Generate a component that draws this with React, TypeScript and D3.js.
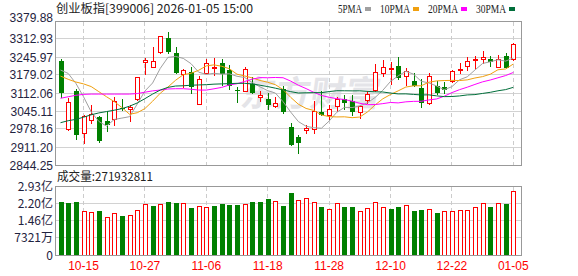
import React from 'react';
import * as d3 from 'd3';

const title = '创业板指[399006] 2026-01-05 15:00';
const volTitle = '成交量:';
const legendLabels = ['5PMA', '10PMA', '20PMA', '30PMA'];
const legendColors = ['#a0a0a0', '#f0a010', '#ff00ff', '#006e3a'];
const watermark = '东方财富';

const dates = ['10-10','10-13','10-14','10-15','10-16','10-17','10-20','10-21','10-22','10-23','10-24','10-27','10-28','10-29','10-30','10-31','11-03','11-04','11-05','11-06','11-07','11-10','11-11','11-12','11-13','11-14','11-17','11-18','11-19','11-20','11-21','11-24','11-25','11-26','11-27','11-28','12-01','12-02','12-03','12-04','12-05','12-08','12-09','12-10','12-11','12-12','12-15','12-16','12-17','12-18','12-19','12-22','12-23','12-24','12-25','12-26','12-29','12-30','12-31','01-05'];

const opens = [3232.2, 2977.0, 3120.7, 2964.5, 3011.7, 3024.0, 3006.8, 3016.5, 3058.0, 3051.4,
  3088.6, 3229.0, 3207.7, 3265.0, 3316.7, 3259.7, 3183.0, 3190.0, 3071.0, 3187.6,
  3205.0, 3222.5, 3196.0, 3123.0, 3120.6, 3145.6, 3098.3, 3091.0, 3063.7, 3128.0,
  2985.0, 2947.0, 2974.5, 2979.0, 3041.0, 3031.4, 3063.7, 3088.6, 3081.0, 3041.4,
  3086.0, 3123.2, 3185.4, 3203.0, 3212.5, 3175.3, 3158.0, 3130.7, 3073.8, 3138.0,
  3133.0, 3155.6, 3197.6, 3212.5, 3235.0, 3237.4, 3237.0, 3210.0, 3249.7, 3237.4];
const highs = [3237.4, 3095.0, 3126.0, 3029.0, 3066.3, 3025.0, 3044.0, 3098.0, 3088.6, 3068.6,
  3172.0, 3241.0, 3282.0, 3325.0, 3339.0, 3282.0, 3200.0, 3210.0, 3175.0, 3240.0,
  3242.0, 3237.4, 3215.0, 3135.5, 3210.0, 3170.0, 3120.6, 3111.0, 3096.0, 3138.0,
  3000.0, 2955.0, 2992.0, 3083.5, 3118.4, 3066.0, 3098.3, 3103.5, 3103.5, 3068.6,
  3120.6, 3220.0, 3234.8, 3227.0, 3247.0, 3205.0, 3185.4, 3163.0, 3185.4, 3155.6,
  3153.0, 3197.0, 3224.8, 3245.0, 3249.7, 3267.0, 3249.7, 3252.0, 3262.0, 3297.0];
const lows = [3098.3, 2975.0, 2942.0, 2927.0, 3001.6, 2929.8, 2971.9, 2994.0, 3049.0, 3006.8,
  3086.0, 3181.0, 3207.0, 3262.0, 3262.0, 3186.0, 3133.0, 3113.2, 3070.0, 3186.0,
  3180.0, 3140.0, 3128.0, 3078.6, 3120.0, 3112.0, 3081.0, 3053.6, 3061.0, 3036.0,
  2918.0, 2890.0, 2962.0, 2964.5, 3029.0, 3014.0, 3046.3, 3053.6, 3031.4, 3019.0,
  3076.0, 3120.6, 3175.3, 3145.6, 3165.0, 3140.7, 3137.0, 3061.0, 3073.0, 3109.0,
  3113.0, 3154.0, 3185.4, 3197.6, 3202.5, 3224.8, 3212.5, 3209.0, 3204.0, 3234.8];
const closes = [3113.2, 3078.6, 2957.0, 3026.5, 3034.0, 2935.0, 2992.0, 3080.8, 3052.0, 3060.0,
  3170.4, 3234.0, 3230.0, 3324.0, 3264.6, 3187.6, 3197.6, 3133.0, 3165.0, 3222.5,
  3209.0, 3182.8, 3138.0, 3119.0, 3200.0, 3113.2, 3103.5, 3068.6, 3073.8, 3040.0,
  2918.7, 2927.2, 2981.9, 3046.0, 3031.5, 3051.4, 3090.9, 3073.8, 3041.4, 3063.7,
  3108.4, 3190.2, 3207.7, 3205.0, 3168.0, 3192.6, 3138.0, 3073.8, 3175.3, 3111.0,
  3123.0, 3195.0, 3202.5, 3230.0, 3237.0, 3244.8, 3227.0, 3239.7, 3205.0, 3294.3];
const volumes = [227000000, 223000000, 227000000, 187000000, 183000000, 189000000, 162000000, 180000000, 167000000, 171000000,
  192000000, 219000000, 210000000, 219000000, 227000000, 223000000, 223000000, 201000000, 210000000, 206000000,
  210000000, 220000000, 216000000, 216000000, 219000000, 227000000, 227000000, 240000000, 232000000, 210000000,
  266000000, 234000000, 243000000, 226000000, 206000000, 197000000, 222000000, 206000000, 206000000, 189000000,
  200000000, 226000000, 204000000, 197000000, 206000000, 214000000, 189000000, 193000000, 196000000, 180000000,
  187000000, 187000000, 192000000, 192000000, 204000000, 222000000, 206000000, 222000000, 219000000, 271932811];

// moving-average values at the left edge (history before the window)
const ma5Head = [3197.6, 3185, 3148, 3098];
const ma10Head = [3175, 3163, 3153, 3146, 3136, 3117, 3098, 3080, 3058];
const ma20Head = [3092.4, 3098, 3103.5, 3107, 3108, 3108, 3108, 3108, 3108, 3108, 3110, 3115, 3120, 3123, 3127, 3128, 3128, 3126, 3123];
const ma30Head = [3001.6, 3009, 3014, 3022, 3031, 3038, 3043, 3048, 3054, 3063, 3075, 3091, 3108, 3123, 3133, 3138, 3139, 3141, 3142, 3143, 3145, 3146, 3147, 3148, 3148, 3146, 3141, 3136, 3130];

const priceTicks = [3379.88, 3312.93, 3245.97, 3179.02, 3112.06, 3045.11, 2978.16, 2911.20, 2844.25];
const volTickValues = [292840000, 219630000, 146420000, 73210000, 0];
const volTickLabels = ['2.93亿', '2.20亿', '1.46亿', '7321万', '0'];
const xTickLabels = ['10-15', '10-27', '11-06', '11-18', '11-28', '12-10', '12-22', '01-05'];

const RED = '#ff0000';
const GREEN = '#008000';

function movingAverage(head: number[], n: number): number[] {
  return closes.map((_, i) => (i < head.length ? head[i] : (d3.mean(closes.slice(i - n + 1, i + 1)) as number)));
}

export default function App() {
  const W = 578, H = 276;
  const left = 55.5, right = 521.5;
  const mainTop = 21.5, mainBottom = 165.5;
  const volTop = 186.5, volBottom = 255.5;

  const x = d3.scaleLinear().domain([0, dates.length - 1]).range([60.5, 513.3]);
  const y = d3.scaleLinear().domain([priceTicks[priceTicks.length - 1], priceTicks[0]]).range([165, 21]);
  const yv = d3.scaleLinear().domain([0, volTickValues[0]]).range([255, 186.6]);

  const mas = [movingAverage(ma5Head, 5), movingAverage(ma10Head, 10), movingAverage(ma20Head, 20), movingAverage(ma30Head, 30)];
  const line = d3.line<number>().x((_, i) => x(i)).y((v) => y(v));

  const tickIdx = xTickLabels.map((l) => dates.indexOf(l));
  const px = (v: number) => Math.floor(v) + 0.5;

  // legend layout
  let lx = 338;
  const legend = legendLabels.map((lab, k) => {
    const tw = lab.length * 6;
    const item = { lab, x: lx, w: tw, sx: lx + tw + 3, color: legendColors[k] };
    lx = lx + tw + 3 + 6 + 9;
    return item;
  });

  const cjk = '"Noto Sans CJK SC", sans-serif';
  const sans = '"Liberation Sans", Arial, sans-serif';

  return (
    <svg width={W} height={H} style={{ position: 'absolute', left: 0, top: 0, background: '#fff' }}
      xmlns="http://www.w3.org/2000/svg">
      <rect x={0} y={0} width={W} height={H} fill="#fff" />
      {/* title */}
      <text x={56} y={13} fontFamily={cjk} fontSize={12} fill="#222" textLength={197} lengthAdjust="spacingAndGlyphs">{title}</text>
      {legend.map((it) => (
        <g key={it.lab}>
          <text x={it.x} y={13} fontFamily='"Liberation Serif", serif' fontSize={12} fill="#222"
            textLength={it.w} lengthAdjust="spacingAndGlyphs">{it.lab}</text>
          <rect x={it.sx} y={7} width={6} height={4} fill={it.color} />
        </g>
      ))}

      {/* watermark */}
      <text x={240} y={106} fontFamily={cjk} fontSize={35} fontWeight={700} fill="#e4e4e8"
        transform="skewX(-8)" style={{ transformOrigin: '300px 100px' } as any}>{watermark}</text>

      {/* main grid */}
      <g shapeRendering="crispEdges">
        {priceTicks.map((t) => (
          <line key={t} x1={left} x2={right} y1={px(y(t))} y2={px(y(t))} stroke="#d2d2d2" />
        ))}
        {tickIdx.map((i) => (
          <line key={'v' + i} x1={px(x(i))} x2={px(x(i))} y1={mainTop} y2={mainBottom} stroke="#cccccc" strokeDasharray="4,3" />
        ))}
        {volTickValues.map((t) => (
          <line key={'g' + t} x1={left} x2={right} y1={px(yv(t))} y2={px(yv(t))} stroke="#d2d2d2" />
        ))}
        {tickIdx.map((i) => (
          <line key={'vv' + i} x1={px(x(i))} x2={px(x(i))} y1={volTop} y2={volBottom} stroke="#cccccc" strokeDasharray="4,3" />
        ))}
      </g>

      {/* candles */}
      <g shapeRendering="crispEdges">
        {dates.map((d, i) => {
          const o = opens[i], c = closes[i], h = highs[i], l = lows[i];
          const up = c >= o;
          const L = Math.round(x(i)) - 2;
          const top = Math.round(y(Math.max(o, c)));
          const bot = Math.round(y(Math.min(o, c)));
          const yh = Math.round(y(h));
          const yl = Math.round(y(l));
          const wx = L + 2.5;
          if (up) {
            const hgt = Math.max(bot - top, 1);
            return (
              <g key={d}>
                <line x1={wx} x2={wx} y1={yh} y2={top} stroke={RED} />
                <line x1={wx} x2={wx} y1={top + hgt + 1} y2={Math.max(yl + 1, top + hgt + 1)} stroke={RED} />
                <rect x={L + 0.5} y={top + 0.5} width={4} height={hgt} fill="#fff" stroke={RED} />
              </g>
            );
          }
          return (
            <g key={d}>
              <line x1={wx} x2={wx} y1={yh} y2={yl + 1} stroke={GREEN} />
              <rect x={L} y={top} width={5} height={Math.max(bot - top, 1)} fill={GREEN} />
            </g>
          );
        })}
      </g>

      {/* moving averages */}
      <g fill="none" strokeWidth={1}>
        {mas.map((m, k) => (
          <path key={k} d={line(m) as string} stroke={legendColors[k]} />
        ))}
      </g>

      {/* volume bars */}
      <g shapeRendering="crispEdges">
        {volumes.map((v, i) => {
          const prev = i === 0 ? opens[0] : closes[i - 1];
          const up = closes[i] >= prev;
          const L = Math.round(x(i)) - 2;
          const vt = Math.round(yv(v));
          if (up) {
            return <rect key={i} x={L + 0.5} y={vt + 0.5} width={4} height={255 - vt - 0.5} fill="#fff" stroke={RED} />;
          }
          return <rect key={i} x={L} y={vt} width={5} height={255 - vt} fill={GREEN} />;
        })}
      </g>

      {/* frames */}
      <g shapeRendering="crispEdges" fill="none" stroke="#999">
        <rect x={left} y={mainTop} width={right - left} height={mainBottom - mainTop} />
        <rect x={left} y={volTop} width={right - left} height={volBottom - volTop} />
      </g>

      {/* price axis labels */}
      {priceTicks.map((t, k) => (
        <text key={t} x={53} y={y(t) + (k === 0 ? 1 : 4.5)} textAnchor="end" fontFamily={sans} fontSize={12} fill="#1f2340">
          {t.toFixed(2)}
        </text>
      ))}

      {/* volume title and labels */}
      <text x={57} y={181} fontFamily={cjk} fontSize={12} fill="#222" textLength={96} lengthAdjust="spacingAndGlyphs">
        {volTitle + volumes[volumes.length - 1]}
      </text>
      {volTickValues.map((t, k) => (
        <text key={'vl' + t} x={53} y={yv(t) + 4.5} textAnchor="end" fontFamily={cjk} fontSize={12} fill="#1f2340">
          {volTickLabels[k]}
        </text>
      ))}

      {/* date labels */}
      {tickIdx.map((i, k) => (
        <text key={'d' + i} x={x(i)} y={270} textAnchor="middle" fontFamily={sans} fontSize={12} fill={RED}>
          {xTickLabels[k]}
        </text>
      ))}
    </svg>
  );
}
